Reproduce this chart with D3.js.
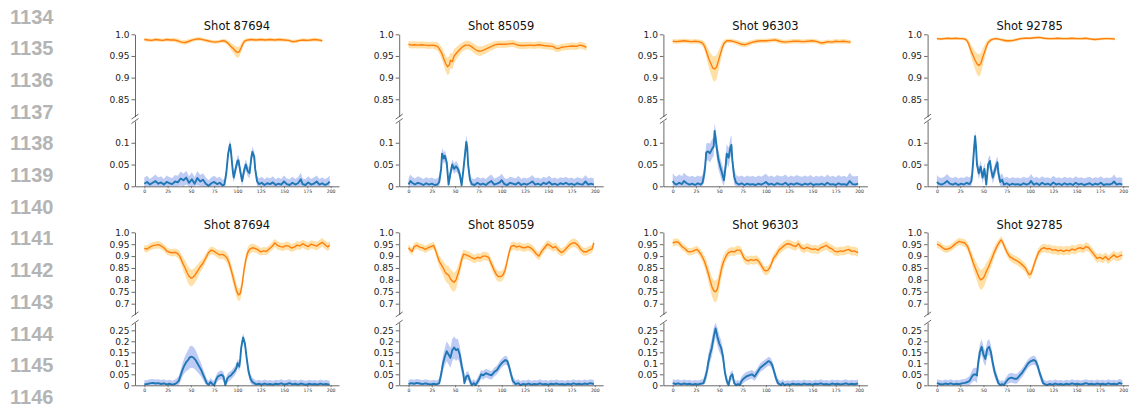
<!DOCTYPE html>
<html>
<head>
<meta charset="utf-8">
<script src="https://cdn.jsdelivr.net/npm/d3@7"></script>
<style>
  body { margin: 0; background: #fff; }
  svg { display: block; font-family: "DejaVu Sans", sans-serif; }
</style>
</head>
<body>
<svg id="chart" width="1129" height="407"></svg>
<script>
'use strict'

const shots = ['87694', '85059', '96303', '92785'];
const lineNumbers = [1134, 1135, 1136, 1137, 1138, 1139, 1140, 1141, 1142, 1143, 1144, 1145, 1146];
const xTicks = [0, 25, 50, 75, 100, 125, 150, 175, 200];
const yTicksTopUpper = [0.85, 0.9, 0.95, 1.0];
const yTicksTopLower = [0, 0.05, 0.1];
const yTicksBottomUpper = [0.7, 0.75, 0.8, 0.85, 0.9, 0.95, 1.0];
const yTicksBottomLower = [0, 0.05, 0.1, 0.15, 0.2, 0.25];

// each point: [step, mean, half band width]
const orangeTop87694 = [[0,.988,.004],[4,.987,.004],[8,.986,.004],[12,.988,.004],[16,.987,.004],[20,.986,.004],[24,.988,.004],[28,.987,.004],[32,.987,.005],[36,.985,.005],[40,.982,.005],[44,.981,.005],[48,.984,.005],[52,.987,.004],[56,.989,.004],[60,.989,.004],[64,.987,.004],[68,.985,.004],[72,.983,.004],[76,.982,.004],[80,.983,.004],[84,.985,.004],[87,.984,.005],[90,.979,.006],[93,.972,.008],[96,.966,.01],[98,.961,.012],[100,.958,.013],[102,.96,.012],[104,.969,.01],[106,.979,.007],[108,.985,.005],[111,.987,.004],[115,.988,.004],[120,.987,.004],[125,.988,.004],[130,.987,.004],[135,.988,.004],[140,.987,.004],[145,.988,.004],[150,.987,.004],[155,.986,.004],[159,.983,.004],[163,.984,.004],[167,.986,.004],[171,.987,.004],[175,.986,.004],[179,.987,.004],[183,.988,.004],[187,.987,.004],[191,.985,.004]];
const orangeTop85059 = [[0,.977,.008],[3,.975,.008],[6,.976,.008],[10,.975,.008],[14,.976,.008],[18,.975,.008],[22,.974,.008],[26,.975,.008],[30,.973,.009],[32,.97,.01],[34,.963,.012],[36,.955,.014],[38,.943,.016],[40,.932,.018],[42,.925,.02],[44,.93,.02],[45,.94,.018],[47,.937,.018],[49,.95,.016],[52,.958,.014],[55,.965,.012],[58,.971,.01],[61,.975,.01],[65,.975,.01],[68,.971,.01],[71,.966,.011],[74,.962,.011],[77,.961,.011],[80,.963,.01],[84,.967,.01],[88,.971,.009],[92,.975,.009],[96,.977,.008],[100,.977,.008],[104,.977,.008],[108,.978,.008],[112,.979,.008],[116,.976,.008],[120,.974,.008],[125,.974,.008],[130,.975,.008],[135,.974,.008],[140,.976,.008],[145,.974,.008],[150,.973,.008],[155,.972,.008],[158,.968,.008],[161,.967,.008],[164,.97,.008],[168,.971,.008],[172,.972,.008],[176,.973,.008],[180,.972,.008],[184,.975,.008],[188,.973,.008],[191,.97,.008]];
const orangeTop96303 = [[0,.984,.005],[4,.983,.005],[8,.984,.005],[12,.985,.005],[16,.984,.005],[20,.983,.005],[24,.984,.005],[28,.983,.005],[31,.981,.006],[33,.977,.008],[35,.968,.012],[37,.955,.016],[39,.942,.02],[41,.932,.024],[43,.922,.027],[45,.92,.03],[47,.924,.028],[49,.938,.024],[51,.953,.018],[53,.968,.013],[55,.979,.008],[58,.985,.005],[62,.985,.005],[66,.983,.005],[70,.98,.006],[74,.977,.006],[78,.976,.006],[82,.979,.006],[86,.982,.005],[90,.984,.005],[95,.985,.005],[100,.985,.005],[105,.986,.005],[110,.987,.005],[115,.984,.005],[120,.982,.005],[125,.983,.005],[130,.984,.005],[135,.984,.005],[140,.983,.005],[145,.984,.005],[150,.985,.005],[155,.983,.005],[159,.98,.005],[163,.981,.005],[167,.983,.005],[171,.982,.005],[175,.984,.005],[179,.983,.005],[183,.984,.005],[187,.983,.005],[191,.982,.005]];
const orangeTop92785 = [[0,.99,.003],[4,.989,.003],[8,.99,.003],[12,.991,.003],[16,.99,.003],[20,.991,.003],[24,.99,.003],[28,.99,.003],[31,.988,.004],[33,.983,.006],[35,.972,.01],[37,.96,.014],[39,.95,.018],[41,.94,.021],[43,.932,.024],[45,.928,.026],[47,.932,.024],[49,.946,.02],[51,.958,.016],[53,.971,.011],[55,.981,.007],[58,.987,.004],[62,.99,.003],[66,.989,.003],[70,.987,.004],[74,.985,.004],[78,.985,.004],[82,.986,.004],[86,.988,.003],[90,.99,.003],[95,.991,.003],[100,.991,.003],[105,.992,.003],[110,.993,.003],[115,.991,.003],[120,.99,.003],[125,.99,.003],[130,.991,.003],[135,.99,.003],[140,.99,.003],[145,.991,.003],[150,.99,.003],[155,.99,.003],[160,.991,.003],[165,.989,.003],[170,.988,.003],[175,.989,.003],[180,.99,.003],[185,.99,.003],[191,.989,.003]];

const blueTop87694 = [[0,.006,.014],[3,.01,.014],[6,.004,.013],[9,.008,.014],[12,.012,.015],[15,.006,.014],[18,.009,.014],[21,.004,.013],[24,.01,.015],[27,.007,.014],[30,.005,.014],[33,.011,.015],[36,.009,.015],[39,.018,.016],[42,.014,.015],[45,.02,.016],[48,.008,.015],[51,.016,.016],[54,.006,.015],[57,.019,.016],[60,.011,.015],[63,.015,.015],[66,.006,.014],[69,.001,.013],[72,.007,.014],[75,.01,.014],[78,.005,.014],[81,.008,.014],[84,.002,.013],[86,.004,.013],[88,.03,.012],[90,.075,.012],[92,.096,.012],[93,.08,.012],[95,.035,.012],[96,.02,.012],[98,.04,.012],[100,.058,.012],[101,.06,.012],[103,.035,.012],[105,.012,.012],[107,.035,.012],[109,.05,.012],[111,.035,.012],[113,.03,.012],[115,.068,.012],[116,.079,.012],[118,.068,.012],[119,.04,.012],[121,.012,.013],[123,.005,.013],[126,.008,.014],[129,.003,.013],[132,.007,.014],[135,.005,.013],[138,.009,.014],[141,.003,.013],[144,.006,.014],[147,.004,.013],[150,.011,.014],[153,.005,.013],[156,.003,.013],[159,.008,.014],[162,.004,.013],[165,.007,.014],[168,.016,.015],[170,.005,.013],[173,.003,.013],[176,.009,.014],[179,.004,.013],[182,.006,.014],[185,.011,.014],[188,.004,.013],[191,.007,.014],[194,.003,.013],[197,.006,.014],[199,.011,.014]];
const blueTop85059 = [[0,.004,.014],[2,.012,.015],[4,.008,.014],[7,.004,.014],[10,.008,.015],[13,.006,.014],[16,.003,.014],[19,.007,.014],[22,.004,.014],[25,.006,.014],[28,.003,.014],[31,.004,.014],[33,.01,.014],[35,.04,.013],[36,.075,.013],[37,.07,.013],[38,.064,.013],[39,.07,.013],[41,.055,.013],[43,.004,.012],[45,.03,.012],[47,.05,.012],[49,.04,.012],[51,.046,.012],[53,.04,.012],[55,.028,.012],[57,.002,.012],[59,.04,.012],[60,.06,.013],[62,.102,.015],[63,.09,.015],[64,.05,.013],[66,.015,.013],[68,.005,.013],[71,.003,.014],[74,.008,.014],[77,.004,.014],[80,.006,.014],[83,.003,.014],[86,.008,.015],[89,.012,.015],[92,.004,.014],[95,.006,.014],[98,.009,.015],[100,.014,.015],[103,.005,.014],[106,.003,.014],[109,.008,.014],[112,.006,.014],[115,.004,.014],[118,.009,.015],[121,.003,.014],[124,.006,.014],[127,.004,.014],[130,.007,.014],[133,.011,.015],[136,.004,.014],[139,.006,.014],[142,.003,.014],[145,.008,.014],[148,.005,.014],[151,.01,.015],[154,.004,.014],[157,.006,.014],[160,.003,.014],[163,.007,.014],[166,.005,.014],[169,.008,.014],[172,.004,.014],[175,.006,.014],[178,.003,.014],[181,.007,.014],[184,.005,.014],[187,.004,.014],[190,.011,.015],[193,.004,.014],[196,.006,.014],[199,.004,.014]];
const blueTop96303 = [[0,.012,.018],[2,.006,.018],[4,.004,.018],[7,.008,.019],[10,.005,.018],[12,.012,.019],[15,.007,.018],[18,.004,.018],[21,.006,.018],[24,.003,.018],[27,.007,.018],[30,.004,.018],[32,.008,.018],[34,.03,.018],[35,.05,.02],[36,.078,.02],[38,.08,.02],[40,.076,.022],[42,.085,.022],[44,.092,.022],[45,.127,.018],[46,.112,.02],[47,.092,.022],[49,.062,.022],[51,.045,.02],[53,.03,.02],[55,.014,.02],[57,.05,.022],[58,.075,.022],[60,.066,.022],[62,.09,.022],[63,.095,.022],[64,.06,.02],[66,.022,.018],[68,.008,.018],[71,.004,.018],[74,.007,.018],[77,.003,.018],[80,.006,.019],[83,.004,.018],[86,.005,.019],[89,.003,.018],[92,.006,.019],[95,.004,.018],[98,.007,.019],[100,.01,.019],[103,.004,.018],[106,.006,.019],[109,.003,.018],[112,.007,.019],[115,.005,.018],[118,.004,.019],[121,.008,.019],[124,.003,.018],[127,.006,.019],[130,.004,.018],[133,.007,.019],[136,.005,.018],[139,.003,.019],[142,.006,.019],[145,.004,.018],[148,.007,.019],[151,.003,.018],[154,.005,.019],[157,.004,.018],[160,.006,.019],[163,.003,.018],[166,.008,.019],[169,.004,.018],[172,.005,.019],[175,.003,.018],[178,.007,.019],[181,.004,.018],[184,.005,.019],[187,.003,.018],[190,.012,.019],[193,.005,.018],[196,.004,.019],[199,.006,.018]];
const blueTop92785 = [[0,.01,.016],[2,.006,.015],[5,.004,.015],[8,.007,.015],[11,.012,.016],[14,.006,.015],[17,.004,.015],[20,.007,.015],[23,.003,.015],[26,.006,.015],[29,.004,.015],[32,.008,.015],[35,.005,.015],[37,.012,.015],[38,.03,.015],[40,.09,.014],[41,.115,.013],[42,.09,.014],[43,.05,.014],[45,.03,.014],[47,.045,.014],[49,.02,.014],[51,.04,.014],[53,.004,.013],[55,.05,.014],[57,.058,.014],[58,.04,.014],[60,.02,.014],[62,.035,.014],[64,.05,.014],[65,.055,.014],[66,.03,.014],[68,.01,.015],[70,.015,.015],[72,.004,.015],[75,.007,.015],[78,.003,.015],[81,.006,.015],[84,.004,.015],[87,.005,.015],[90,.003,.015],[93,.007,.015],[96,.004,.015],[99,.006,.015],[101,.012,.016],[104,.004,.015],[107,.007,.015],[110,.003,.015],[113,.008,.015],[116,.004,.015],[119,.006,.015],[122,.003,.015],[125,.009,.015],[128,.004,.015],[131,.006,.015],[134,.003,.015],[137,.007,.015],[140,.004,.015],[143,.006,.015],[146,.003,.015],[149,.008,.015],[152,.004,.015],[155,.006,.015],[158,.003,.015],[161,.005,.015],[164,.007,.015],[167,.003,.015],[170,.006,.015],[173,.004,.015],[176,.008,.015],[179,.003,.015],[182,.005,.015],[185,.004,.015],[188,.006,.015],[190,.011,.016],[193,.004,.015],[196,.006,.015],[199,.004,.015]];

const orangeBottom87694 = [[0,.932,.015],[3,.93,.015],[6,.938,.015],[9,.944,.015],[12,.946,.015],[15,.948,.015],[18,.943,.015],[21,.935,.015],[24,.922,.015],[27,.916,.015],[30,.914,.016],[33,.916,.016],[36,.91,.018],[38,.9,.02],[40,.882,.024],[42,.865,.028],[44,.848,.032],[46,.83,.035],[48,.815,.036],[50,.808,.036],[52,.81,.034],[54,.818,.032],[56,.83,.03],[58,.842,.026],[60,.855,.024],[63,.87,.02],[66,.892,.018],[69,.915,.016],[72,.925,.016],[75,.92,.016],[78,.912,.017],[81,.905,.018],[84,.907,.018],[87,.9,.02],[89,.89,.022],[91,.872,.024],[93,.845,.026],[95,.815,.028],[97,.785,.03],[99,.755,.028],[101,.737,.026],[103,.742,.026],[105,.78,.028],[107,.84,.028],[109,.885,.025],[111,.915,.022],[113,.928,.02],[116,.935,.018],[119,.932,.017],[122,.926,.016],[125,.918,.016],[128,.922,.016],[131,.92,.016],[134,.93,.016],[137,.94,.017],[140,.955,.017],[143,.945,.017],[146,.94,.017],[149,.938,.017],[152,.944,.017],[155,.942,.017],[158,.934,.017],[161,.938,.017],[164,.946,.017],[167,.943,.017],[170,.952,.017],[173,.945,.017],[176,.94,.017],[179,.95,.017],[182,.946,.017],[185,.942,.017],[188,.95,.018],[191,.958,.018],[194,.948,.018],[197,.938,.017],[199,.947,.017]];
const orangeBottom85059 = [[0,.935,.015],[2,.925,.015],[4,.92,.015],[6,.94,.015],[9,.945,.015],[12,.938,.015],[15,.935,.015],[18,.928,.015],[21,.935,.015],[24,.94,.015],[27,.945,.015],[29,.925,.017],[31,.9,.02],[33,.878,.024],[35,.865,.026],[37,.852,.03],[39,.835,.034],[41,.825,.036],[43,.82,.038],[45,.805,.04],[47,.795,.042],[49,.79,.04],[51,.8,.038],[53,.825,.034],[55,.85,.03],[57,.885,.024],[59,.908,.02],[62,.905,.018],[65,.9,.018],[68,.893,.018],[71,.888,.018],[74,.895,.018],[77,.892,.018],[80,.9,.018],[83,.9,.018],[86,.895,.018],[88,.875,.02],[90,.858,.022],[92,.84,.022],[94,.825,.022],[96,.815,.022],[98,.814,.022],[100,.815,.022],[102,.825,.022],[104,.845,.022],[106,.88,.02],[108,.915,.018],[110,.94,.018],[113,.945,.017],[116,.938,.017],[119,.942,.017],[122,.936,.017],[125,.935,.017],[128,.94,.017],[131,.935,.017],[134,.925,.017],[137,.91,.017],[140,.9,.017],[143,.92,.017],[146,.935,.017],[149,.95,.017],[152,.945,.017],[155,.935,.017],[158,.94,.017],[161,.925,.017],[164,.915,.017],[167,.922,.017],[170,.935,.017],[173,.948,.018],[176,.955,.018],[179,.955,.018],[182,.945,.018],[185,.928,.017],[188,.918,.017],[191,.918,.017],[194,.925,.017],[197,.93,.017],[199,.955,.017]];
const orangeBottom96303 = [[0,.955,.015],[3,.96,.015],[6,.958,.015],[8,.95,.015],[10,.94,.015],[12,.935,.015],[14,.928,.015],[16,.92,.015],[18,.918,.015],[21,.92,.015],[24,.925,.015],[26,.928,.015],[28,.92,.016],[30,.91,.018],[32,.895,.02],[34,.878,.024],[36,.855,.028],[38,.83,.032],[40,.8,.036],[42,.772,.04],[44,.755,.044],[46,.75,.046],[48,.762,.044],[50,.8,.04],[52,.84,.034],[54,.87,.028],[56,.89,.024],[58,.905,.02],[60,.915,.018],[63,.92,.018],[66,.918,.018],[69,.925,.018],[72,.925,.018],[74,.915,.018],[76,.895,.018],[78,.885,.018],[81,.88,.018],[84,.885,.018],[87,.882,.018],[90,.886,.018],[93,.875,.018],[96,.855,.018],[98,.842,.018],[100,.838,.018],[102,.84,.018],[104,.85,.018],[106,.868,.018],[108,.89,.018],[111,.905,.018],[114,.925,.018],[117,.935,.018],[120,.945,.018],[123,.952,.018],[126,.95,.018],[129,.944,.018],[132,.94,.018],[135,.952,.018],[138,.935,.018],[141,.93,.018],[144,.937,.018],[147,.932,.018],[150,.928,.018],[153,.93,.018],[156,.925,.018],[159,.935,.018],[162,.94,.018],[165,.945,.018],[168,.935,.018],[171,.93,.018],[174,.92,.018],[177,.918,.018],[180,.922,.018],[183,.92,.018],[186,.925,.018],[189,.928,.018],[192,.92,.018],[195,.922,.018],[199,.915,.018]];
const orangeBottom92785 = [[0,.95,.015],[3,.945,.015],[6,.935,.015],[9,.928,.015],[12,.93,.015],[15,.935,.015],[18,.945,.015],[21,.955,.015],[24,.962,.015],[27,.958,.015],[30,.955,.016],[33,.94,.018],[36,.908,.022],[39,.872,.028],[42,.842,.034],[45,.812,.04],[47,.8,.042],[49,.805,.042],[51,.815,.04],[53,.835,.036],[56,.86,.03],[59,.89,.026],[62,.92,.022],[65,.945,.018],[67,.958,.016],[69,.968,.015],[71,.955,.015],[73,.935,.016],[75,.918,.017],[78,.898,.018],[82,.888,.018],[86,.88,.018],[89,.872,.018],[92,.862,.018],[95,.85,.018],[97,.835,.018],[99,.822,.018],[101,.825,.018],[103,.848,.018],[106,.885,.018],[109,.915,.018],[112,.93,.018],[115,.935,.018],[118,.93,.018],[121,.932,.018],[124,.925,.018],[127,.927,.018],[130,.922,.018],[133,.925,.018],[136,.92,.018],[139,.925,.018],[142,.922,.018],[145,.93,.018],[148,.925,.018],[151,.932,.018],[154,.935,.018],[157,.93,.018],[160,.94,.018],[163,.935,.018],[166,.92,.018],[169,.905,.018],[172,.89,.018],[175,.895,.018],[178,.888,.018],[181,.898,.018],[184,.885,.018],[187,.895,.018],[190,.905,.018],[193,.895,.018],[196,.9,.018],[199,.905,.018]];

const blueBottom87694 = [[0,.004,.018],[3,.006,.018],[6,.009,.018],[9,.011,.018],[12,.008,.018],[15,.01,.018],[18,.006,.018],[21,.009,.018],[24,.004,.018],[27,.007,.018],[30,.003,.018],[33,.006,.02],[35,.012,.02],[37,.02,.022],[39,.045,.025],[41,.07,.03],[43,.09,.035],[45,.105,.04],[47,.115,.045],[49,.128,.05],[51,.13,.05],[53,.125,.048],[55,.115,.045],[57,.1,.04],[59,.085,.035],[61,.07,.03],[63,.05,.025],[65,.03,.022],[67,.01,.02],[69,.002,.018],[71,.015,.018],[73,.006,.018],[75,.001,.018],[77,.025,.02],[79,.04,.02],[81,.045,.02],[83,.048,.02],[85,.04,.02],[86,.02,.02],[87,.001,.02],[89,.03,.02],[91,.04,.02],[93,.045,.02],[95,.055,.02],[97,.065,.02],[99,.08,.02],[100,.1,.02],[102,.085,.02],[103,.12,.02],[104,.17,.02],[106,.217,.02],[108,.19,.02],[110,.12,.02],[112,.06,.02],[114,.03,.02],[116,.015,.02],[118,.01,.018],[120,.004,.018],[123,.007,.018],[126,.003,.018],[129,.008,.018],[132,.004,.018],[135,.006,.018],[138,.003,.018],[141,.007,.018],[144,.005,.018],[147,.009,.018],[150,.004,.018],[153,.006,.018],[156,.01,.018],[159,.004,.018],[162,.007,.018],[165,.003,.018],[168,.008,.018],[171,.005,.018],[174,.003,.018],[177,.007,.018],[180,.004,.018],[183,.006,.018],[186,.003,.018],[189,.008,.018],[192,.004,.018],[195,.006,.018],[199,.003,.018]];
const blueBottom85059 = [[0,.006,.018],[3,.01,.018],[6,.007,.018],[9,.011,.018],[12,.008,.018],[15,.005,.018],[18,.009,.018],[21,.006,.018],[24,.004,.018],[27,.007,.018],[30,.004,.018],[33,.01,.02],[35,.05,.025],[37,.1,.035],[39,.13,.04],[41,.155,.045],[43,.14,.045],[45,.125,.045],[47,.16,.05],[49,.172,.05],[51,.16,.05],[53,.165,.045],[55,.14,.04],[57,.09,.035],[59,.05,.025],[60,.01,.022],[62,.04,.02],[64,.045,.02],[66,.02,.02],[68,.001,.018],[70,.01,.018],[72,.001,.018],[74,.015,.018],[76,.03,.02],[78,.05,.02],[80,.045,.02],[83,.055,.02],[86,.05,.02],[89,.045,.02],[92,.06,.02],[95,.07,.02],[98,.09,.02],[101,.105,.02],[104,.115,.02],[106,.11,.02],[108,.085,.02],[110,.05,.02],[112,.02,.02],[115,.005,.018],[118,.01,.018],[120,.001,.018],[123,.006,.018],[126,.004,.018],[129,.008,.018],[132,.003,.018],[135,.006,.018],[138,.004,.018],[141,.009,.018],[144,.004,.018],[147,.006,.018],[150,.003,.018],[153,.007,.018],[156,.005,.018],[159,.008,.018],[162,.004,.018],[165,.006,.018],[168,.003,.018],[171,.007,.018],[174,.004,.018],[177,.009,.018],[180,.005,.018],[183,.007,.018],[186,.004,.018],[189,.008,.018],[192,.005,.018],[195,.01,.018],[199,.006,.018]];
const blueBottom96303 = [[0,.01,.018],[3,.006,.018],[6,.009,.018],[9,.004,.018],[12,.008,.018],[15,.005,.018],[18,.007,.018],[21,.003,.018],[24,.006,.018],[27,.004,.018],[30,.007,.018],[33,.01,.02],[35,.035,.025],[37,.07,.03],[38,.1,.035],[40,.14,.038],[42,.17,.04],[44,.22,.04],[46,.258,.04],[48,.22,.04],[50,.19,.038],[52,.17,.035],[54,.13,.03],[56,.06,.025],[58,.02,.02],[60,.001,.02],[62,.04,.02],[64,.05,.02],[66,.01,.02],[68,.001,.018],[70,.006,.018],[72,.001,.018],[74,.02,.02],[76,.03,.02],[79,.04,.02],[82,.045,.02],[85,.05,.02],[88,.04,.02],[91,.06,.02],[94,.08,.02],[97,.09,.02],[100,.1,.02],[103,.11,.02],[105,.105,.02],[107,.09,.02],[109,.06,.02],[111,.03,.02],[113,.01,.02],[116,.001,.018],[118,.01,.018],[120,.001,.018],[123,.005,.018],[126,.003,.018],[129,.007,.018],[132,.004,.018],[135,.006,.018],[138,.003,.018],[141,.008,.018],[144,.004,.018],[147,.006,.018],[150,.003,.018],[153,.007,.018],[156,.005,.018],[159,.009,.018],[162,.004,.018],[165,.006,.018],[168,.003,.018],[171,.008,.018],[174,.005,.018],[177,.007,.018],[180,.004,.018],[183,.006,.018],[186,.009,.018],[189,.004,.018],[192,.007,.018],[195,.005,.018],[199,.008,.018]];
const blueBottom92785 = [[0,.01,.018],[3,.006,.018],[6,.004,.018],[9,.008,.018],[12,.005,.018],[15,.009,.018],[18,.004,.018],[21,.007,.018],[24,.005,.018],[27,.009,.018],[30,.011,.018],[33,.015,.02],[35,.02,.022],[37,.035,.025],[39,.048,.03],[41,.05,.03],[43,.045,.035],[44,.09,.035],[46,.15,.035],[48,.175,.035],[50,.14,.035],[52,.12,.035],[54,.165,.035],[56,.175,.035],[58,.15,.032],[60,.1,.03],[62,.06,.025],[64,.035,.022],[66,.01,.02],[68,.001,.018],[70,.005,.018],[72,.001,.018],[74,.015,.02],[77,.03,.022],[80,.035,.022],[83,.03,.022],[86,.03,.022],[89,.045,.02],[92,.06,.02],[95,.08,.02],[98,.1,.02],[101,.11,.02],[104,.115,.02],[106,.11,.02],[108,.09,.02],[110,.06,.02],[112,.035,.02],[114,.01,.02],[116,.005,.018],[118,.001,.018],[121,.006,.018],[124,.003,.018],[127,.008,.018],[130,.004,.018],[133,.006,.018],[136,.003,.018],[139,.007,.018],[142,.004,.018],[145,.009,.018],[148,.005,.018],[151,.007,.018],[154,.004,.018],[157,.006,.018],[160,.01,.018],[163,.005,.018],[166,.007,.018],[169,.004,.018],[172,.008,.018],[175,.005,.018],[178,.007,.018],[181,.004,.018],[184,.009,.018],[187,.005,.018],[190,.007,.018],[193,.004,.018],[196,.011,.018],[199,.006,.018]];

const orangeTop = [orangeTop87694, orangeTop85059, orangeTop96303, orangeTop92785];
const blueTop = [blueTop87694, blueTop85059, blueTop96303, blueTop92785];
const orangeBottom = [orangeBottom87694, orangeBottom85059, orangeBottom96303, orangeBottom92785];
const blueBottom = [blueBottom87694, blueBottom85059, blueBottom96303, blueBottom92785];

// layout
const panelLeft = [135, 399.2, 663.4, 927.6];
const panelWidth = 204;
const xDomain = [-10, 209];

const rows = [
  {titleY: 29.5,
   upper: {domain: [0.81, 1.0], range: [116.6, 34.3], ticks: yTicksTopUpper, series: orangeTop},
   lower: {domain: [0, 0.15], range: [186.3, 121], ticks: yTicksTopLower, series: blueTop}},
  {titleY: 229,
   upper: {domain: [0.655, 1.0], range: [314.4, 232.3], ticks: yTicksBottomUpper, series: orangeBottom},
   lower: {domain: [0, 0.285], range: [385.3, 322.6], ticks: yTicksBottomLower, series: blueBottom}}
];

const svg = d3.select('#chart');

// line numbers in the margin
svg.append('g').selectAll('text').data(lineNumbers).enter()
  .append('text')
    .attr('x', 10)
    .attr('y', (d, i) => 23.5 + i * 31.7)
    .attr('font-family', '"Liberation Sans", Arial, sans-serif')
    .attr('font-weight', 'bold')
    .attr('font-size', 20)
    .attr('fill', '#b4b4b4')
    .text(d => d);

const fmt = d => d === 1 ? '1.0' : d === 0 ? '0' : String(d);

function drawPart(g, x, part, data, color, bandColor, lineWidth) {
  const y = d3.scaleLinear().domain(part.domain).range(part.range);
  const lo = part.domain[0], hi = part.domain[1];
  const clip = v => Math.max(lo, Math.min(hi, v));

  const area = d3.area()
    .x(d => x(d[0]))
    .y0(d => y(clip(d[1] - d[2])))
    .y1(d => y(clip(d[1] + d[2])));
  const line = d3.line()
    .x(d => x(d[0]))
    .y(d => y(clip(d[1])));

  g.append('path')
    .attr('d', area(data))
    .attr('fill', bandColor)
    .attr('fill-opacity', 0.35);
  g.append('path')
    .attr('d', line(data))
    .attr('fill', 'none')
    .attr('stroke', color)
    .attr('stroke-width', lineWidth)
    .attr('stroke-linejoin', 'round');

  const ax = g.append('g')
    .attr('transform', `translate(${x.range()[0]},0)`)
    .call(d3.axisLeft(y).tickValues(part.ticks).tickFormat(fmt).tickSize(3.5).tickSizeOuter(0).tickPadding(2));
  ax.select('.domain').attr('stroke', '#444').attr('stroke-width', 0.8);
  ax.selectAll('.tick line').attr('stroke', '#444').attr('stroke-width', 0.8);
  ax.selectAll('.tick text')
    .attr('font-size', 9)
    .attr('font-family', '"DejaVu Sans", sans-serif')
    .attr('fill', '#222');
  return y;
}

rows.forEach(row => {
  shots.forEach((shot, i) => {
    const L = panelLeft[i];
    const x = d3.scaleLinear().domain(xDomain).range([L, L + panelWidth]);
    const g = svg.append('g').attr('class', 'panel');

    g.append('text')
      .attr('x', L + panelWidth / 2)
      .attr('y', row.titleY)
      .attr('text-anchor', 'middle')
      .attr('font-size', 11.5)
      .attr('fill', '#111')
      .text('Shot ' + shot);

    drawPart(g, x, row.upper, row.upper.series[i], '#ff7f0e', '#ffa500', 1.4);
    drawPart(g, x, row.lower, row.lower.series[i], '#1f77b4', '#4169e1', 1.9);

    // bottom axis of the lower part
    const xa = g.append('g')
      .attr('transform', `translate(0,${row.lower.range[0]})`)
      .call(d3.axisBottom(x).tickValues(xTicks).tickSize(2).tickSizeOuter(0).tickPadding(1.5));
    xa.select('.domain').attr('stroke', '#444').attr('stroke-width', 0.8);
    xa.selectAll('.tick line').attr('stroke', '#444').attr('stroke-width', 0.6);
    xa.selectAll('.tick text')
      .attr('font-size', 4.6)
      .attr('font-family', '"DejaVu Sans", sans-serif')
      .attr('fill', '#333');

    // broken axis marks
    [row.upper.range[0], row.lower.range[1]].forEach(yy => {
      g.append('line')
        .attr('x1', L - 3.5).attr('y1', yy + 2.5)
        .attr('x2', L + 3.5).attr('y2', yy - 2.5)
        .attr('stroke', '#444').attr('stroke-width', 0.8);
    });
  });
});
</script>
</body>
</html>
